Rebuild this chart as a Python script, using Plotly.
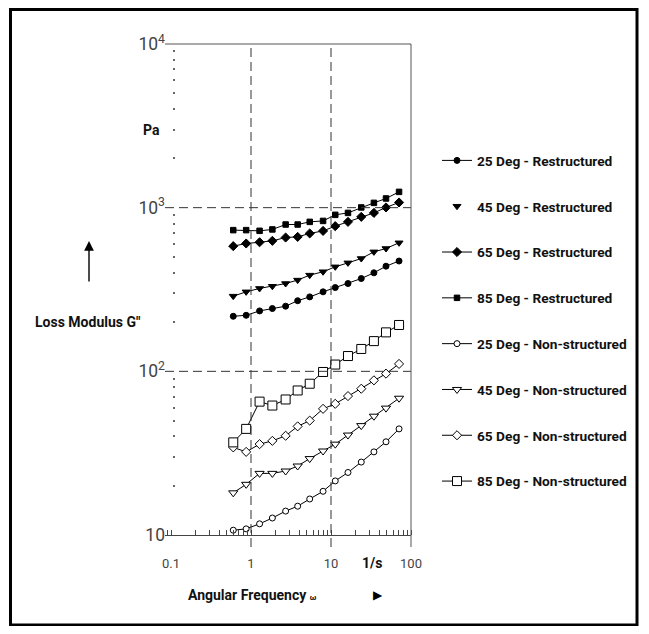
import math
import plotly.graph_objects as go

# ---------------- data ----------------
freq = [0.6, 0.87, 1.28, 1.85, 2.71, 3.83, 5.42, 7.96, 11.3, 16.3, 23.9, 34.4, 48.7, 70.9]

g25_restructured = [217, 220, 234, 242, 250, 270, 285, 306, 325, 344, 369, 400, 439, 472]
g45_restructured = [288, 306, 321, 331, 344, 361, 387, 406, 435, 460, 489, 537, 563, 610]
g65_restructured = [582, 604, 615, 627, 657, 663, 696, 721, 771, 819, 879, 929, 1003, 1076]
g85_restructured = [729, 729, 722, 736, 789, 789, 819, 830, 904, 929, 1003, 1070, 1138, 1249]

g25_nonstructured = [10.7, 10.9, 11.7, 12.7, 14.0, 15.0, 16.6, 18.5, 21.4, 24.1, 27.9, 32.2, 37.1, 44.5]
g45_nonstructured = [18.1, 20.4, 23.8, 23.8, 24.6, 26.4, 29.3, 32.6, 35.9, 40.8, 46.6, 53.2, 59.6, 68.5]
g65_nonstructured = [34.3, 32.2, 35.9, 37.6, 40.4, 46.1, 50.0, 59.0, 63.3, 70.6, 78.3, 88.1, 96.8, 111]
g85_nonstructured = [36.8, 44.5, 65.3, 61.8, 67.3, 76.4, 84.0, 99.1, 110, 124, 137, 153, 173, 192]

series_names = ["25 Deg - Restructured", "45 Deg - Restructured", "65 Deg - Restructured",
                "85 Deg - Restructured", "25 Deg - Non-structured", "45 Deg - Non-structured",
                "65 Deg - Non-structured", "85 Deg - Non-structured"]
x_tick_vals = [0.1, 1, 10, 100]
x_tick_text = ["0.1", "1", "10", "100"]
x_grid_vals = [1, 10]
y_grid_vals = [100, 1000]

# ---------------- layout geometry (page pixel coordinates) ----------------
OFF = 8                              # default page body margin of the written html
W, H = 649 - 2 * OFF, 634 - 2 * OFF  # figure size so that the page does not scroll
L, R, T, B = 165, 411, 44, 535
FONT = "Roboto, Liberation Sans, sans-serif"


def px(xp):
    return (xp - L) / (R - L)


def py(yp):
    return (B - yp) / (B - T)


fig = go.Figure()

styles = [
    (g25_restructured, "circle", 6, "black"),
    (g45_restructured, "triangle-down", 7, "black"),
    (g65_restructured, "diamond", 7, "black"),
    (g85_restructured, "square", 5.5, "black"),
    (g25_nonstructured, "circle", 6, "white"),
    (g45_nonstructured, "triangle-down", 8, "white"),
    (g65_nonstructured, "diamond", 7, "white"),
    (g85_nonstructured, "square", 9, "white"),
]

for name, (vals, sym, size, fill) in zip(series_names, styles):
    if name == "45 Deg - Restructured":
        # line drawn separately; legend shows only the marker
        fig.add_trace(go.Scatter(x=freq, y=vals, mode="lines", showlegend=False,
                                 line=dict(color="black", width=1), legendgroup=name,
                                 hoverinfo="skip"))
        mode = "markers"
    else:
        mode = "lines+markers"
    fig.add_trace(go.Scatter(
        x=freq, y=vals, mode=mode, name=name, legendgroup=name,
        line=dict(color="black", width=1),
        marker=dict(symbol=sym, size=size, color=fill,
                    line=dict(color="black", width=1)),
    ))

dash = "9px,5px"
gridc = "#333333"
shapes = []
# dashed vertical grid lines at 1 and 10 (extend below the axis like major ticks)
for xv in x_grid_vals:
    shapes.append(dict(type="line", xref="x", yref="paper", x0=xv, x1=xv,
                       y0=py(547), y1=1, line=dict(color=gridc, width=1, dash=dash)))
# dashed horizontal grid lines at 100 and 1000
for yv in y_grid_vals:
    shapes.append(dict(type="line", xref="paper", yref="y", x0=0, x1=1,
                       y0=yv, y1=yv, line=dict(color=gridc, width=1, dash=dash)))
# top frame line and right frame line
shapes.append(dict(type="line", xref="paper", yref="paper", x0=0, x1=1, y0=1, y1=1,
                   line=dict(color="#555555", width=1)))
shapes.append(dict(type="line", xref="paper", yref="paper", x0=1, x1=1, y0=py(547), y1=1,
                   line=dict(color="#555555", width=1)))
# outer picture border
shapes.append(dict(type="rect", xref="paper", yref="paper", x0=px(10.5), x1=px(637),
                   y0=py(625), y1=py(9.5), line=dict(color="black", width=3)))

annotations = [
    dict(text="Loss Modulus G\"", xref="paper", yref="paper", x=px(143), y=py(322),
         xanchor="right", yanchor="middle", showarrow=False,
         font=dict(family=FONT, size=14, color="#111111", weight="bold")),
    dict(text="", xref="paper", yref="paper", x=px(89), y=py(241), ax=0, ay=42,
         showarrow=True, arrowhead=2, arrowsize=1.4, arrowwidth=1.4, arrowcolor="black"),
    dict(text="Pa", xref="paper", yref="y", x=0, y=math.log10(3000), xanchor="right",
         xshift=-3, yanchor="middle", showarrow=False,
         font=dict(family=FONT, size=14, color="#111111", weight="bold")),
    dict(text="Angular Frequency <span style='font-size:8px'>ω</span>", xref="paper", yref="paper",
         x=px(186), y=py(595), xanchor="left", yanchor="middle", showarrow=False,
         font=dict(family=FONT, size=14, color="#111111", weight="bold")),
    dict(text="▶", xref="paper", yref="paper", x=px(378), y=py(595), xanchor="center",
         yanchor="middle", showarrow=False,
         font=dict(family="DejaVu Sans", size=12, color="black")),
    dict(text="1/s", xref="paper", yref="paper", x=px(372), y=py(563), xanchor="center",
         yanchor="middle", showarrow=False,
         font=dict(family=FONT, size=14, color="#111111", weight="bold")),
]

fig.update_layout(
    width=W, height=H,
    margin=dict(l=L - OFF, r=W - (R - OFF), t=T - OFF, b=H - (B - OFF), autoexpand=False),
    paper_bgcolor="white", plot_bgcolor="white",
    font=dict(family=FONT, size=13, color="#444444"),
    showlegend=True,
    legend=dict(x=px(437), y=py(145), xanchor="left", yanchor="top",
                font=dict(family=FONT, size=13.7, color="#111111", weight="bold"),
                tracegroupgap=25, bgcolor="rgba(0,0,0,0)", traceorder="grouped"),
    xaxis=dict(type="log", range=[-1.075, 2.0], tickvals=x_tick_vals, ticktext=x_tick_text,
               ticks="", showgrid=False, zeroline=False, showline=True, automargin=False,
               linecolor="#444444", linewidth=1, ticklabelstandoff=16,
               tickfont=dict(family=FONT, size=13, color="#444444"),
               minor=dict(ticks="inside", ticklen=5, tickcolor="#444444", tickwidth=1,
                          dtick="D1", showgrid=False)),
    yaxis=dict(type="log", range=[1, 4], dtick=1, exponentformat="power", ticks="",
               anchor="free", position=px(172), ticklabelstandoff=7,
               showgrid=False, zeroline=False, showline=False, automargin=False,
               tickfont=dict(family=FONT, size=14, color="#444444"),
               minor=dict(ticks="inside", ticklen=2, tickwidth=2, tickcolor="#666666",
                          dtick="D1", showgrid=False)),
    shapes=shapes,
    annotations=annotations,
)

fig.write_html("out.html")
